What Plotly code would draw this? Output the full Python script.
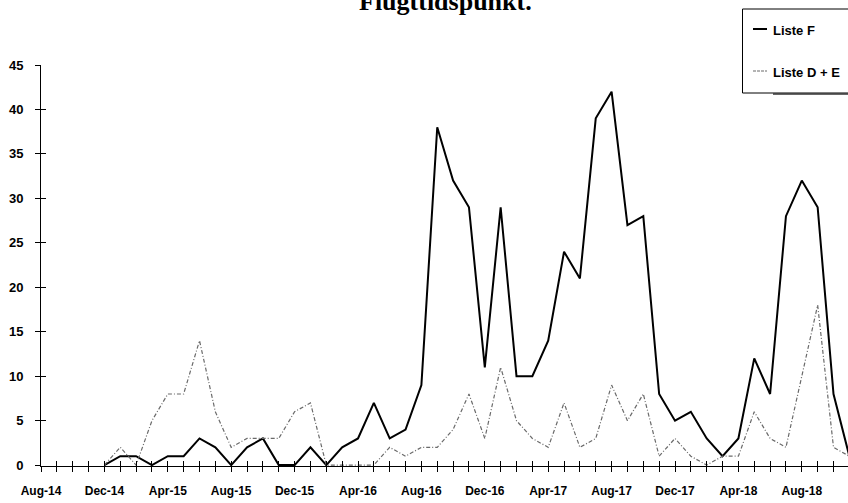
import plotly.graph_objects as go

title_text = "Flugttidspunkt."
series_f_name = "Liste F"
series_de_name = "Liste D + E"

months = [
    "Aug-14", "Sep-14", "Oct-14", "Nov-14", "Dec-14",
    "Jan-15", "Feb-15", "Mar-15", "Apr-15", "May-15", "Jun-15", "Jul-15", "Aug-15", "Sep-15", "Oct-15", "Nov-15", "Dec-15",
    "Jan-16", "Feb-16", "Mar-16", "Apr-16", "May-16", "Jun-16", "Jul-16", "Aug-16", "Sep-16", "Oct-16", "Nov-16", "Dec-16",
    "Jan-17", "Feb-17", "Mar-17", "Apr-17", "May-17", "Jun-17", "Jul-17", "Aug-17", "Sep-17", "Oct-17", "Nov-17", "Dec-17",
    "Jan-18", "Feb-18", "Mar-18", "Apr-18", "May-18", "Jun-18", "Jul-18", "Aug-18", "Sep-18", "Oct-18", "Nov-18",
]

liste_f = [
    None, None, None, None, 0,
    1, 1, 0, 1, 1, 3, 2, 0, 2, 3, 0, 0,
    2, 0, 2, 3, 7, 3, 4, 9, 38, 32, 29, 11,
    29, 10, 10, 14, 24, 21, 39, 42, 27, 28, 8, 5,
    6, 3, 1, 3, 12, 8, 28, 32, 29, 8, 1,
]

liste_de = [
    None, None, None, None, 0,
    2, 0, 5, 8, 8, 14, 6, 2, 3, 3, 3, 6,
    7, 0, 0, 0, 0, 2, 1, 2, 2, 4, 8, 3,
    11, 5, 3, 2, 7, 2, 3, 9, 5, 8, 1, 3,
    1, 0, 1, 1, 6, 3, 2, 10, 18, 2, 1,
]

label_every = 4
y_ticks = [0, 5, 10, 15, 20, 25, 30, 35, 40, 45]

idx = list(range(len(months)))
tick_text = [m if i % label_every == 0 else "" for i, m in enumerate(months)]

# layout geometry (pixels)
FW, FH = 848, 503
L, T, W, H = 41, 65, 807, 401
month_px = 15.85


def px(x):
    return (x - L) / W


def py(y):
    return (T + H - y) / H


xtick_font = dict(family="Liberation Sans, Arial, sans-serif", size=12, color="black", weight="bold")
ytick_font = dict(family="Liberation Sans, Arial, sans-serif", size=13, color="black", weight="bold")

fig = go.Figure()
fig.add_trace(go.Scatter(
    x=idx, y=liste_de, mode="lines", name=series_de_name,
    line=dict(color="#6a6a6a", width=1.2, dash="4px,2px,1px,2px"),
    xaxis="x2", yaxis="y2", showlegend=False, connectgaps=False,
))
fig.add_trace(go.Scatter(
    x=idx, y=liste_f, mode="lines", name=series_f_name,
    line=dict(color="black", width=2),
    showlegend=False, connectgaps=False,
))

x_range = [0, W / month_px]
common_x = dict(range=x_range, tickmode="array", tickvals=idx, showgrid=False, zeroline=False,
                ticklen=5, tickwidth=1, tickcolor="black")
fig.update_layout(
    width=FW, height=FH,
    margin=dict(l=L, r=FW - L - W, t=T, b=FH - T - H, pad=0),
    paper_bgcolor="white", plot_bgcolor="white",
    showlegend=False,
    xaxis=dict(**common_x, ticktext=tick_text, ticks="outside", showline=True, linecolor="black",
               linewidth=1, tickfont=xtick_font, ticklabelstandoff=9),
    xaxis2=dict(**common_x, ticktext=[""] * len(idx), ticks="inside", overlaying="x", matches="x",
                showline=False, showticklabels=False, anchor="y2"),
    yaxis=dict(range=[-0.1, 45], tickmode="array", tickvals=y_ticks, ticks="outside", ticklen=5,
               tickcolor="black", showline=True, linecolor="black", linewidth=1, showgrid=False,
               zeroline=False, tickfont=ytick_font, ticklabelstandoff=9),
    yaxis2=dict(range=[-0.1, 45], tickmode="array", tickvals=y_ticks, ticks="inside", ticklen=5,
                tickcolor="black", overlaying="y", matches="y", showline=False, showgrid=False,
                zeroline=False, showticklabels=False, anchor="x2"),
)

# title (partially cut off at the top, as in the reference)
fig.add_annotation(
    text=title_text, xref="paper", yref="paper", x=px(446), y=py(18),
    xanchor="center", yanchor="bottom", showarrow=False,
    font=dict(family="Liberation Serif, Times New Roman, serif", size=26, color="black", weight="bold"),
)

# custom legend box
fig.add_shape(type="rect", xref="paper", yref="paper", x0=px(742.5), x1=px(880), y0=py(93), y1=py(9),
              line=dict(color="black", width=1), fillcolor="white", layer="above")
fig.add_shape(type="line", xref="paper", yref="paper", x0=px(773), x1=px(848), y0=py(94), y1=py(94),
              line=dict(color="#333", width=1.5), layer="above")
legend_items = [
    (series_f_name, dict(color="black", width=2), 29),
    (series_de_name, dict(color="#6a6a6a", width=1.2, dash="3px,1px"), 71),
]
legend_font = dict(family="Liberation Sans, Arial, sans-serif", size=13, color="black", weight="bold")
for name, ln, yy in legend_items:
    fig.add_shape(type="line", xref="paper", yref="paper", x0=px(753), x1=px(767), y0=py(yy), y1=py(yy),
                  line=ln, layer="above")
    fig.add_annotation(text=name, xref="paper", yref="paper", x=px(771), y=py(yy + 1),
                       xanchor="left", yanchor="middle", showarrow=False, font=legend_font)

fig.write_html(
    "out.html",
    config={"displayModeBar": False},
    post_script="document.body.style.margin='0';document.body.style.padding='0';"
                "document.documentElement.style.overflow='hidden';",
)
